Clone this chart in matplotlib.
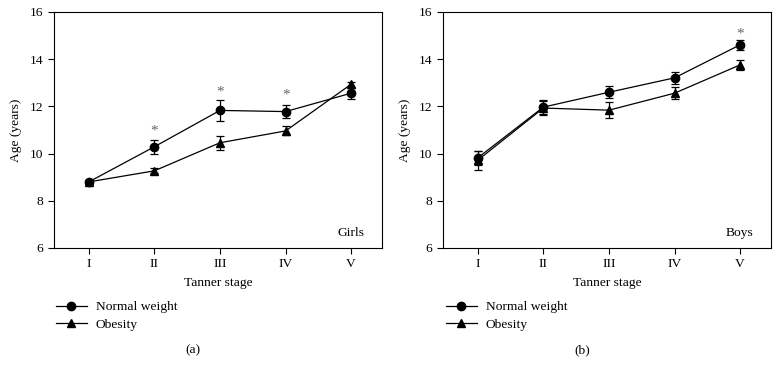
import matplotlib
matplotlib.use("Agg")
import matplotlib.pyplot as plt
from matplotlib.lines import Line2D

plt.rcParams['font.family'] = ['Liberation Serif', 'DejaVu Serif']
plt.rcParams['font.size'] = 9.7

stages = ["I", "II", "III", "IV", "V"]
x = [1, 2, 3, 4, 5]

# Girls
girls_normal = [8.8, 10.29, 11.83, 11.78, 12.56]
girls_normal_err = [0.1, 0.3, 0.43, 0.27, 0.23]
girls_obese = [8.8, 9.27, 10.46, 10.96, 12.94]
girls_obese_err = [0.1, 0.1, 0.3, 0.19, 0.1]
girls_star_x = [2, 3, 4]
girls_star_y = [10.95, 12.6, 12.47]

# Boys
boys_normal = [9.82, 11.97, 12.6, 13.21, 14.61]
boys_normal_err = [0.3, 0.3, 0.26, 0.24, 0.22]
boys_obese = [9.72, 11.93, 11.84, 12.56, 13.76]
boys_obese_err = [0.4, 0.3, 0.35, 0.25, 0.22]
boys_star_x = [5]
boys_star_y = [15.07]

fig = plt.figure(figsize=(7.8, 3.76), dpi=100)
W, H = 780, 376


def panel(left_px, normal, normal_err, obese, obese_err, star_x, star_y, tag, letter, leg_px):
    ax = fig.add_axes([left_px / W, 1 - 248 / H, 328 / W, 236 / H])
    ax.errorbar(x, normal, yerr=normal_err, color="black", marker="o", markersize=6,
                linewidth=0.9, elinewidth=0.9, capsize=3, capthick=0.9)
    ax.errorbar(x, obese, yerr=obese_err, color="black", marker="^", markersize=6,
                linewidth=0.9, elinewidth=0.9, capsize=3, capthick=0.9)
    for sx, sy in zip(star_x, star_y):
        ax.text(sx, sy, "*", color="#666666", ha="center", va="center", fontsize=11)
    ax.set_xlim(0.47, 5.47)
    ax.set_ylim(6, 16)
    ax.set_xticks(x)
    ax.set_xticklabels(stages)
    ax.set_yticks([6, 8, 10, 12, 14, 16])
    ax.tick_params(direction="out", length=4, width=0.8, top=False, right=False)
    for s in ax.spines.values():
        s.set_linewidth(0.8)
    ax.set_xlabel("Tanner stage", labelpad=5)
    ax.set_ylabel("Age (years)", labelpad=6)
    ax.text(5.2, 6.4, tag, ha="right", va="bottom")
    handles = [Line2D([], [], color="black", marker="o", markersize=6, linewidth=0.9, label="Normal weight"),
               Line2D([], [], color="black", marker="^", markersize=6, linewidth=0.9, label="Obesity")]
    fig.legend(handles=handles, loc="upper left", bbox_to_anchor=(leg_px / W, 1 - 301 / H),
               frameon=False, borderpad=0, borderaxespad=0, handlelength=2.3,
               handletextpad=0.65, labelspacing=0.35)
    fig.text((left_px + 139) / W, 1 - 350 / H, letter, ha="center", va="center")


panel(54, girls_normal, girls_normal_err, girls_obese, girls_obese_err,
      girls_star_x, girls_star_y, "Girls", "(a)", 56)
panel(443, boys_normal, boys_normal_err, boys_obese, boys_obese_err,
      boys_star_x, boys_star_y, "Boys", "(b)", 446)

fig.savefig("out.png", dpi=100)
